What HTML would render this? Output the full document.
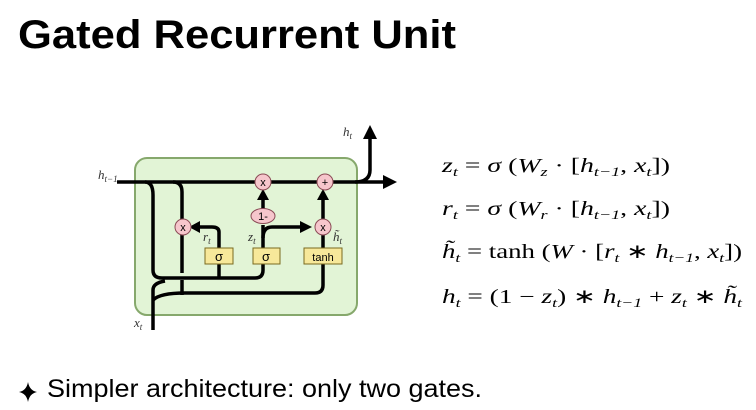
<!DOCTYPE html>
<html><head><meta charset="utf-8"><style>
html,body{margin:0;padding:0;background:#fff;width:756px;height:410px;overflow:hidden}
svg{display:block}
.m{font-family:"Liberation Serif",serif;font-size:20px}
.i{font-style:italic}
</style></head><body>
<svg width="756" height="410" viewBox="0 0 756 410" xmlns="http://www.w3.org/2000/svg">
<text x="18" y="48" font-family="Liberation Sans,sans-serif" font-weight="bold" font-size="40" textLength="438" lengthAdjust="spacingAndGlyphs">Gated Recurrent Unit</text>

<rect x="135" y="158" width="222" height="157" rx="12" fill="#e2f4d6" stroke="#86a86c" stroke-width="2"/>
<g fill="none" stroke="#000" stroke-width="3.5">
<path d="M117 182 H385"/>
<path d="M355 182 Q370 182 370 170 V137"/>
<path d="M145 182 Q153 182 153 195 V270 Q153 278 162 278 H255 Q263 278 263 270 V264"/>
<path d="M173 182 Q182 182 182 192 V273"/>
<path d="M182 280 V295"/>
<path d="M153 330 V290 Q153 283 165 281"/>
<path d="M153 300 Q160 293 185 293 H315 Q323 293 323 285 V264"/>
<path d="M219 278 V232 Q219 227 212 227 H198"/>
<path d="M263 248 V225"/>
<path d="M263 209 V198"/>
<path d="M263 238 Q263 227 272 227 H300"/>
<path d="M323 220 V198"/>
<path d="M323 248 V234"/>
</g>
<g fill="#000">
<path d="M383 175 L397 182 L383 189Z"/>
<path d="M363 139 L370 125 L377 139Z"/>
<path d="M200 221 L189 227 L200 233Z"/>
<path d="M257 200 L263 189 L269 200Z"/>
<path d="M317 200 L323 189 L329 200Z"/>
<path d="M300 221 L312 227 L300 233Z"/>
</g>
<g fill="#f6c6cc" stroke="#8a4a55" stroke-width="1">
<circle cx="263" cy="182" r="8"/>
<circle cx="325" cy="182" r="8"/>
<circle cx="183" cy="227" r="8"/>
<circle cx="323" cy="227" r="8"/>
<ellipse cx="263" cy="216" rx="12" ry="7.5"/>
</g>
<g font-family="Liberation Sans,sans-serif" font-size="11" text-anchor="middle">
<text x="263" y="186">x</text><text x="325" y="186">+</text>
<text x="183" y="231">x</text><text x="323" y="231">x</text>
<text x="263" y="220">1-</text>
</g>
<g fill="#f7e89a" stroke="#7a6a20" stroke-width="1">
<rect x="205" y="248" width="28" height="16"/>
<rect x="253" y="248" width="27" height="16"/>
<rect x="304" y="248" width="38" height="16"/>
</g>
<g font-family="Liberation Sans,sans-serif" font-size="13" text-anchor="middle">
<text x="219" y="261">σ</text><text x="266" y="261">σ</text><text x="323" y="261" font-size="11">tanh</text>
</g>
<g font-family="Liberation Serif,serif" font-style="italic" font-size="13" fill="#333">
<text x="98" y="179">h<tspan font-size="9" dy="3">t−1</tspan></text>
<text x="343" y="136">h<tspan font-size="9" dy="3">t</tspan></text>
<text x="203" y="241">r<tspan font-size="9" dy="3">t</tspan></text>
<text x="248" y="241">z<tspan font-size="9" dy="3">t</tspan></text>
<text x="333" y="241">h̃<tspan font-size="9" dy="3">t</tspan></text>
<text x="134" y="327">x<tspan font-size="9" dy="3">t</tspan></text>
</g>

<g class="m">
<text x="442" y="172" textLength="228" lengthAdjust="spacingAndGlyphs"><tspan class="i">z</tspan><tspan font-size="13" class="i" dy="4">t</tspan><tspan dy="-4"> = </tspan><tspan class="i">σ</tspan> (<tspan class="i">W</tspan><tspan font-size="13" class="i" dy="4">z</tspan><tspan dy="-4"> · [</tspan><tspan class="i">h</tspan><tspan font-size="13" class="i" dy="4">t−1</tspan><tspan dy="-4">, </tspan><tspan class="i">x</tspan><tspan font-size="13" class="i" dy="4">t</tspan><tspan dy="-4">])</tspan></text>
<text x="442" y="215" textLength="228" lengthAdjust="spacingAndGlyphs"><tspan class="i">r</tspan><tspan font-size="13" class="i" dy="4">t</tspan><tspan dy="-4"> = </tspan><tspan class="i">σ</tspan> (<tspan class="i">W</tspan><tspan font-size="13" class="i" dy="4">r</tspan><tspan dy="-4"> · [</tspan><tspan class="i">h</tspan><tspan font-size="13" class="i" dy="4">t−1</tspan><tspan dy="-4">, </tspan><tspan class="i">x</tspan><tspan font-size="13" class="i" dy="4">t</tspan><tspan dy="-4">])</tspan></text>
<text x="442" y="258" textLength="300" lengthAdjust="spacingAndGlyphs"><tspan class="i">h̃</tspan><tspan font-size="13" class="i" dy="4">t</tspan><tspan dy="-4"> = tanh (</tspan><tspan class="i">W</tspan> · [<tspan class="i">r</tspan><tspan font-size="13" class="i" dy="4">t</tspan><tspan dy="-4"> ∗ </tspan><tspan class="i">h</tspan><tspan font-size="13" class="i" dy="4">t−1</tspan><tspan dy="-4">, </tspan><tspan class="i">x</tspan><tspan font-size="13" class="i" dy="4">t</tspan><tspan dy="-4">])</tspan></text>
<text x="442" y="303" textLength="300" lengthAdjust="spacingAndGlyphs"><tspan class="i">h</tspan><tspan font-size="13" class="i" dy="4">t</tspan><tspan dy="-4"> = (1 − </tspan><tspan class="i">z</tspan><tspan font-size="13" class="i" dy="4">t</tspan><tspan dy="-4">) ∗ </tspan><tspan class="i">h</tspan><tspan font-size="13" class="i" dy="4">t−1</tspan><tspan dy="-4"> + </tspan><tspan class="i">z</tspan><tspan font-size="13" class="i" dy="4">t</tspan><tspan dy="-4"> ∗ </tspan><tspan class="i">h̃</tspan><tspan font-size="13" class="i" dy="4">t</tspan></text>
</g>

<path d="M28 382 Q29.5 390.5 37 392 Q29.5 393.5 28 402 Q26.5 393.5 19 392 Q26.5 390.5 28 382Z" fill="#000"/>
<text x="47" y="397" font-family="Liberation Sans,sans-serif" font-size="25" textLength="435" lengthAdjust="spacingAndGlyphs">Simpler architecture: only two gates.</text>
</svg>
</body></html>
